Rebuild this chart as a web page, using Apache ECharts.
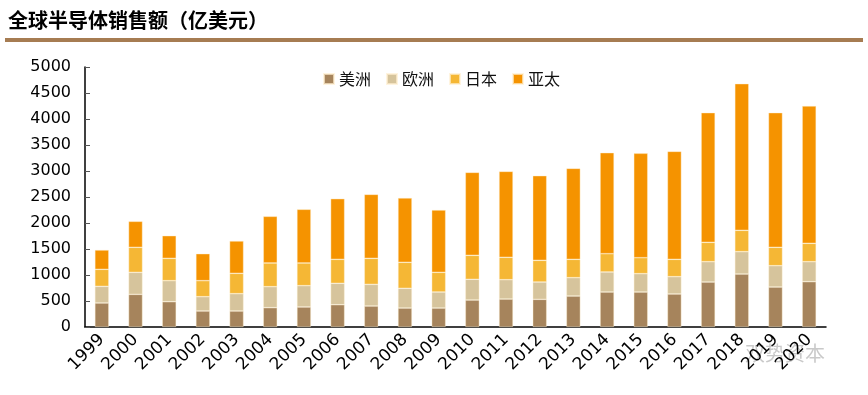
<!DOCTYPE html>
<html>
<head>
<meta charset="utf-8">
<script src="https://cdn.jsdelivr.net/npm/echarts@6/dist/echarts.min.js"></script>
<style>html,body{margin:0;padding:0;background:#fff;}#c{width:868px;height:395px;}</style>
</head>
<body>
<div id="c"></div>
<script>
const years = ['1999','2000','2001','2002','2003','2004','2005','2006','2007','2008','2009','2010','2011','2012','2013','2014','2015','2016','2017','2018','2019','2020'];
const americas    = [462, 628, 487, 308, 308, 372, 385, 429, 404, 365, 365, 519, 538, 532, 596, 673, 673, 635, 865, 1019, 769, 872];
const europe      = [320, 423, 404, 275, 333, 404, 410, 411, 416, 379, 308, 398, 372, 333, 353, 385, 353, 333, 391, 430, 410, 384];
const japan       = [327, 481, 429, 308, 391, 455, 436, 461, 500, 500, 378, 461, 430, 417, 352, 352, 307, 333, 372, 410, 353, 353];
const asiaPacific = [372, 500, 436, 519, 622, 897, 1032, 1167, 1231, 1237, 1199, 1596, 1653, 1628, 1750, 1942, 2007, 2077, 2494, 2820, 2590, 2641];
const seriesNames = ['美洲', '欧洲', '日本', '亚太'];
const yTicks = {min: 0, max: 5000, interval: 500};

const colors = ['#A6845C', '#D6C49C', '#F5B735', '#F59300'];
const dataSets = [americas, europe, japan, asiaPacific];

const chart = echarts.init(document.getElementById('c'), null, {renderer: 'canvas'});
chart.setOption({
  animation: false,
  backgroundColor: '#ffffff',
  color: colors,
  title: {
    text: '全球半导体销售额（亿美元）',
    left: 3, top: 5,
    textStyle: {fontFamily: 'Noto Sans CJK SC', fontWeight: 'bold', fontSize: 20, color: '#000'}
  },
  graphic: [
    {type: 'rect', shape: {x: 5, y: 38, width: 858, height: 4}, style: {fill: '#A67C52'}},
    {type: 'text', left: 745, top: 343, style: {text: '双势资本', fontSize: 20, fill: 'rgba(120,120,120,0.4)', fontFamily: 'Noto Sans CJK SC'}}
  ],
  legend: {
    data: seriesNames,
    left: 318, top: 66,
    itemWidth: 10, itemHeight: 10, itemGap: 15,
    icon: 'rect',
    textStyle: {fontFamily: 'Noto Sans CJK SC', fontSize: 16, color: '#111'}
  },
  grid: {left: 85, right: 42, top: 67, bottom: 68},
  xAxis: {
    type: 'category',
    data: years,
    boundaryGap: true,
    axisLine: {lineStyle: {color: '#000', width: 1.5}},
    axisTick: {inside: true, length: 5, lineStyle: {color: '#555'}},
    axisLabel: {rotate: 45, fontSize: 17, color: '#000', fontFamily: 'DejaVu Sans', margin: 10, interval: 0}
  },
  yAxis: {
    type: 'value',
    min: yTicks.min, max: yTicks.max, interval: yTicks.interval,
    axisLine: {show: true, lineStyle: {color: '#000', width: 1.5}},
    axisTick: {show: true, inside: true, length: 5, lineStyle: {color: '#555'}},
    splitLine: {show: false},
    axisLabel: {fontSize: 16, color: '#000', fontFamily: 'DejaVu Sans', margin: 14, formatter: v => String(v)}
  },
  series: seriesNames.map((n, i) => ({
    name: n,
    type: 'bar',
    stack: 'total',
    barWidth: 14,
    data: dataSets[i],
    itemStyle: {color: colors[i], borderColor: 'rgba(255,240,210,0.7)', borderWidth: 0.6}
  }))
});
</script>
</body>
</html>
